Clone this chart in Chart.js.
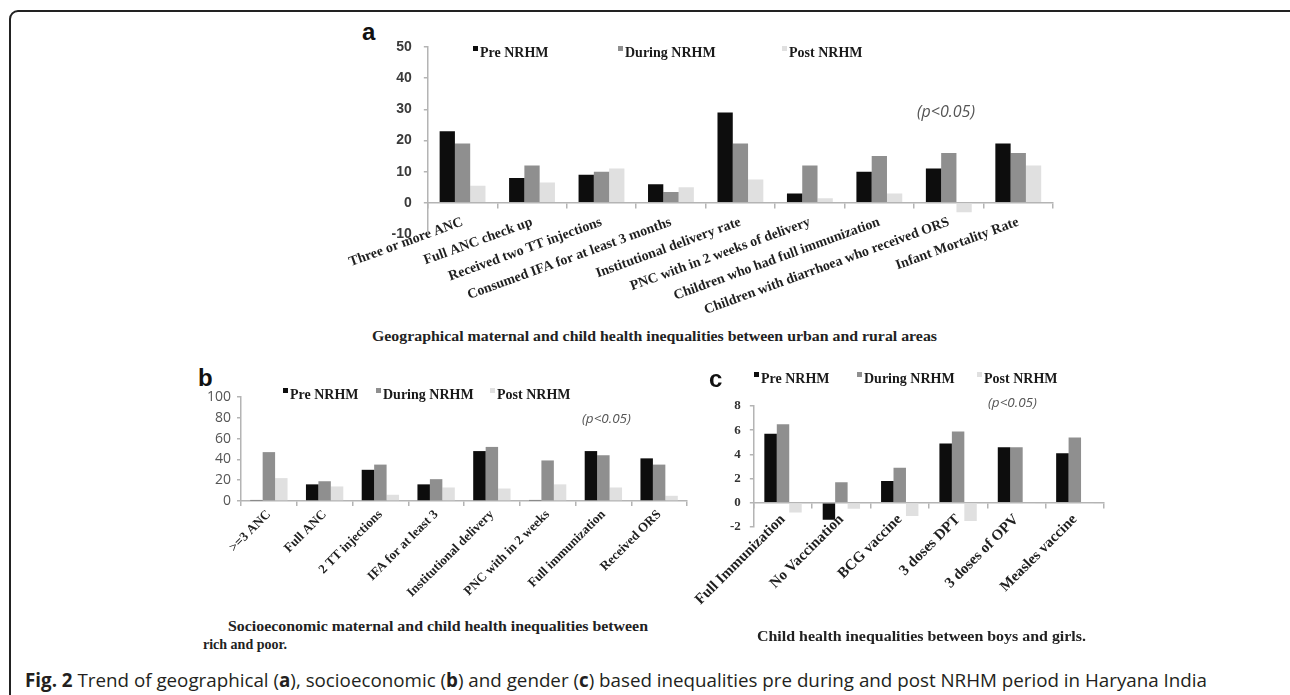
<!DOCTYPE html>
<html>
<head>
<meta charset="utf-8">
<title>Fig. 2 NRHM inequalities</title>
<script src="https://cdn.jsdelivr.net/npm/chart.js@4.4.1/dist/chart.umd.min.js"></script>
<style>
  body { margin: 0; width: 1290px; height: 695px; overflow: hidden; background: #fff; position: relative; }
  .frame { position: absolute; left: 9px; top: 10px; width: 1300px; height: 720px; border: 2px solid #222; border-radius: 9px 9px 0 0; box-sizing: border-box; }
  .box { position: absolute; }
  .letter { position: absolute; font-family: 'Liberation Sans', Arial, sans-serif; font-weight: bold; font-size: 24px; color: #111; line-height: 1; }
  .pval { position: absolute; font-family: 'Open Sans', sans-serif; font-style: italic; color: #555; line-height: 1; white-space: nowrap; }
  .ttl { position: absolute; font-family: 'Liberation Serif', serif; font-weight: bold; font-size: 14px; color: #222; white-space: nowrap; line-height: 1; transform-origin: left center; }
  .caption { position: absolute; left: 25px; top: 669px; font-family: 'Open Sans', sans-serif; font-size: 19px; color: #231f20; white-space: nowrap; line-height: 22px; transform-origin: left center; }
</style>
</head>
<body>
<div class="frame"></div>

<!-- panel a -->
<div class="letter" style="left:362px; top:20px;">a</div>
<div class="box" style="left:340px; top:20px; width:723px; height:300px;"><canvas id="chartGeo"></canvas></div>
<div class="pval" style="left:917px; top:103px; font-size:16px;">(p&lt;0.05)</div>
<div class="ttl" id="ttlGeo" style="left:372px; top:330px;">Geographical maternal and child health inequalities between urban and rural areas</div>

<!-- panel b -->
<div class="letter" style="left:198px; top:366px;">b</div>
<div class="box" style="left:195px; top:375px; width:502px; height:225px;"><canvas id="chartEco"></canvas></div>
<div class="pval" style="left:582px; top:412px; font-size:13.5px;">(p&lt;0.05)</div>
<div class="ttl" id="ttlEco1" style="left:228px; top:620px;">Socioeconomic maternal and child health inequalities between</div>
<div class="ttl" style="left:203px; top:638px;">rich and poor.</div>

<!-- panel c -->
<div class="letter" style="left:709px; top:367px;">c</div>
<div class="box" style="left:690px; top:368px; width:424px; height:250px;"><canvas id="chartGen"></canvas></div>
<div class="pval" style="left:988px; top:396px; font-size:13.5px;">(p&lt;0.05)</div>
<div class="ttl" id="ttlGen" style="left:757px; top:630px;">Child health inequalities between boys and girls.</div>

<div class="caption" id="caption"><b>Fig. 2</b> Trend of geographical (<b>a</b>), socioeconomic (<b>b</b>) and gender (<b>c</b>) based inequalities pre during and post NRHM period in Haryana India</div>

<script>
// Series shared by the three panels
const seriesNames = ['Pre NRHM', 'During NRHM', 'Post NRHM'];
const seriesColors = ['#0d0d0d', '#8f8f8f', '#e0e0e0'];

// Panel a: urban vs rural
const geoLabels = ['Three or more ANC', 'Full ANC check up', 'Received two TT injections',
    'Consumed IFA for at least 3 months', 'Institutional delivery rate',
    'PNC with in 2 weeks of delivery', 'Children who had full immunization',
    'Children with diarrhoea who received ORS', 'Infant Mortality Rate'];
const geoPre = [23, 8, 9, 6, 29, 3, 10, 11, 19];
const geoDuring = [19, 12, 10, 3.5, 19, 12, 15, 16, 16];
const geoPost = [5.5, 6.5, 11, 5, 7.5, 1.5, 3, -3, 12];

// Panel b: rich vs poor
const ecoLabels = ['>=3 ANC', 'Full ANC', '2 TT injections', 'IFA for at least 3',
    'Institutional delivery', 'PNC with in 2 weeks', 'Full immunization', 'Received ORS'];
const ecoPre = [1, 16, 30, 16, 48, 1, 48, 41];
const ecoDuring = [47, 19, 35, 21, 52, 39, 44, 35];
const ecoPost = [22, 14, 6, 13, 12, 16, 13, 5];

// Panel c: boys vs girls
const genLabels = ['Full Immunization', 'No Vaccination', 'BCG vaccine', '3 doses DPT',
    '3 doses of OPV', 'Measles vaccine'];
const genPre = [5.7, -1.4, 1.8, 4.9, 4.6, 4.1];
const genDuring = [6.5, 1.7, 2.9, 5.9, 4.6, 5.4];
const genPost = [-0.8, -0.5, -1.1, -1.5, -0.1, -0.1];

const axisColor = '#b4b4b4';

// Small legend drawn inside the plot, like the original Excel figure
const cornerLegend = {
    id: 'cornerLegend',
    afterDraw(chart, args, opts) {
        const ctx = chart.ctx;
        ctx.save();
        ctx.font = opts.font;
        ctx.textBaseline = 'middle';
        chart.data.datasets.forEach((ds, i) => {
            const x = opts.xs[i];
            ctx.fillStyle = ds.backgroundColor;
            ctx.fillRect(x, opts.y - 7, 5, 5);
            ctx.fillStyle = '#1a1a1a';
            ctx.fillText(ds.label, x + 7, opts.y);
        });
        ctx.restore();
    }
};

function makeChart(id, labels, pre, during, post, cfg) {
    const ctx = document.getElementById(id).getContext('2d');
    const values = [pre, during, post];
    return new Chart(ctx, {
        type: 'bar',
        data: {
            labels: labels,
            datasets: values.map((v, i) => ({
                label: seriesNames[i],
                data: v,
                backgroundColor: seriesColors[i],
                categoryPercentage: cfg.group,
                barPercentage: 1
            }))
        },
        options: {
            responsive: true,
            maintainAspectRatio: false,
            animation: false,
            layout: {
                autoPadding: false,
                padding: { top: 0, right: 0, left: 0, bottom: 0 }
            },
            plugins: {
                legend: { display: false },
                tooltip: { enabled: false },
                cornerLegend: { xs: cfg.legendX, y: cfg.legendY, font: 'bold 14px "Liberation Serif"' }
            },
            scales: {
                x: {
                    position: cfg.xAtZero ? { y: 0 } : 'bottom',
                    grid: { drawOnChartArea: false, drawTicks: true, tickLength: 5, offset: true, color: axisColor, lineWidth: 1.5 },
                    border: { display: true, color: axisColor, width: 1.5 },
                    ticks: {
                        autoSkip: false,
                        minRotation: cfg.rot,
                        maxRotation: cfg.rot,
                        padding: cfg.xPad,
                        color: '#1f1f1f',
                        font: { family: 'Liberation Serif', weight: 'bold', size: cfg.xFont }
                    },
                    afterFit: s => { s.height = cfg.xHeight; }
                },
                y: {
                    min: cfg.min,
                    max: cfg.max,
                    grid: { drawOnChartArea: false, drawTicks: true, tickLength: 4, color: axisColor, lineWidth: 1.5 },
                    border: { display: true, color: axisColor, width: 1.5 },
                    ticks: {
                        stepSize: cfg.step,
                        padding: cfg.yPad,
                        color: cfg.yColor,
                        font: cfg.yFont
                    },
                    afterFit: s => { s.width = cfg.area.left; }
                }
            }
        },
        plugins: [cornerLegend]
    });
}

// Nudge the layout padding until the plot area sits where the figure has it
function pinArea(chart, area) {
    const pad = { top: 0, right: 0, bottom: 0, left: 0 };
    for (let k = 0; k < 5; k++) {
        const a = chart.chartArea;
        pad.top += area.top - a.top;
        pad.left += area.left - a.left;
        pad.right += a.right - area.right;
        pad.bottom += a.bottom - area.bottom;
        chart.config.options.layout.padding = Object.assign({}, pad);
        chart.update();
    }
}

function fitWidth(id, target) {
    const el = document.getElementById(id);
    const w = el.getBoundingClientRect().width;
    el.style.transform = 'scaleX(' + (target / w) + ')';
}

window.onload = function() {
    const geo = makeChart('chartGeo', geoLabels, geoPre, geoDuring, geoPost, {
        group: 0.66, rot: 20, xFont: 14, xPad: 6, xHeight: 86, xAtZero: true,
        min: -10, max: 50, step: 10, yPad: 12, yColor: '#3a3a3a',
        yFont: { family: 'Liberation Sans', weight: 'bold', size: 14 },
        area: { left: 84, top: 27, right: 713, bottom: 214 },
        legendX: [133, 278, 442], legendY: 33
    });
    pinArea(geo, { left: 84, top: 27, right: 713, bottom: 214 });

    const eco = makeChart('chartEco', ecoLabels, ecoPre, ecoDuring, ecoPost, {
        group: 0.67, rot: 45, xFont: 13, xPad: 1, xHeight: 99, xAtZero: false,
        min: 0, max: 100, step: 20, yPad: 6, yColor: '#555',
        yFont: { family: 'Open Sans', size: 14 },
        area: { left: 46, top: 22, right: 492, bottom: 126 },
        legendX: [88, 181, 295], legendY: 20
    });
    pinArea(eco, { left: 46, top: 22, right: 492, bottom: 126 });

    const gen = makeChart('chartGen', genLabels, genPre, genDuring, genPost, {
        group: 0.64, rot: 45, xFont: 15, xPad: 3, xHeight: 91, xAtZero: true,
        min: -2, max: 8, step: 2, yPad: 9, yColor: '#333',
        yFont: { family: 'Liberation Serif', weight: 'bold', size: 13 },
        area: { left: 63, top: 38, right: 414, bottom: 159 },
        legendX: [64, 167, 287], legendY: 11
    });
    pinArea(gen, { left: 63, top: 38, right: 414, bottom: 159 });

    fitWidth('caption', 1182);
    fitWidth('ttlGeo', 565);
    fitWidth('ttlEco1', 420);
    fitWidth('ttlGen', 329);
};
</script>
</body>
</html>
